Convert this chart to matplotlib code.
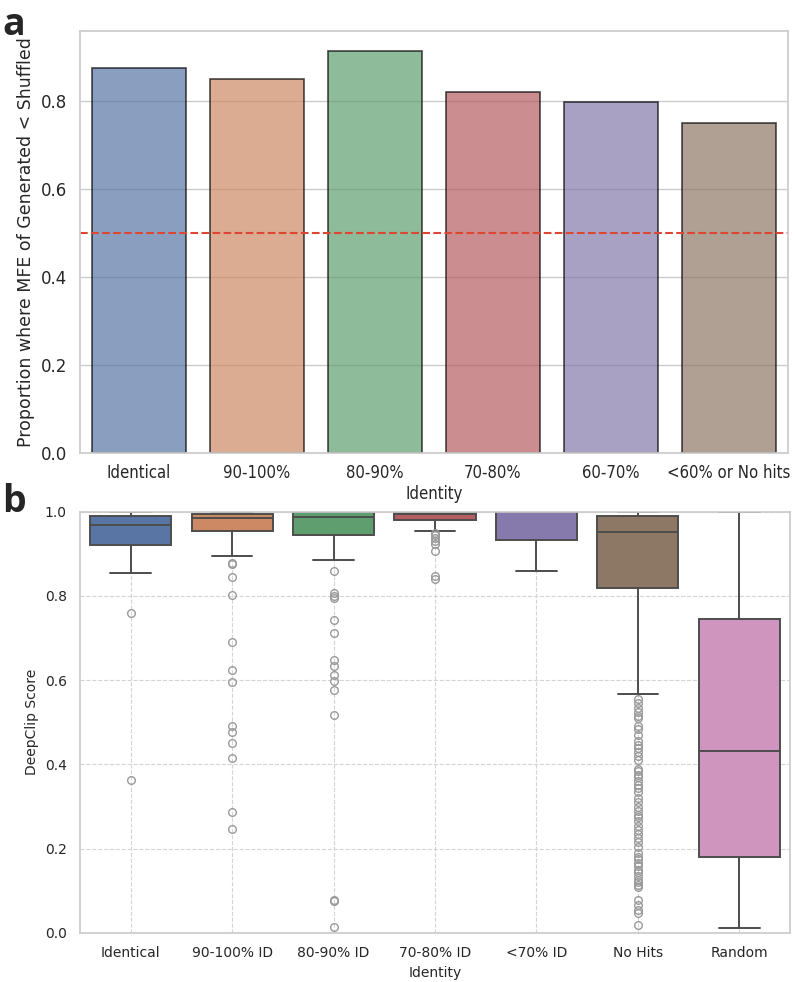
import numpy as np
import matplotlib
matplotlib.use('Agg')
import matplotlib.pyplot as plt
import seaborn as sns

sns.set_theme(style='whitegrid')
plt.rcParams['font.family'] = ['DejaVu Sans']

# panel a: proportion where MFE of generated < shuffled
mfe_groups = ['Identical', '90-100%', '80-90%', '70-80%', '60-70%', '<60% or No hits']
mfe_props = [0.877, 0.852, 0.914, 0.821, 0.798, 0.751]

# panel b: DeepClip score distributions (box statistics)
clip_groups = ['Identical', '90-100% ID', '80-90% ID', '70-80% ID', '<70% ID', 'No Hits', 'Random']
clip_q1 = [0.920, 0.953, 0.945, 0.981, 0.933, 0.818, 0.181]
clip_med = [0.967, 0.985, 0.987, 0.995, 0.999, 0.951, 0.432]
clip_q3 = [0.990, 0.995, 0.998, 0.998, 0.999, 0.990, 0.746]
clip_lo = [0.853, 0.894, 0.885, 0.953, 0.859, 0.566, 0.011]
clip_hi = [0.999, 0.999, 1.000, 0.999, 1.000, 1.000, 1.000]
clip_fliers = [
    [0.759, 0.364],
    [0.877, 0.875, 0.844, 0.803, 0.691, 0.624, 0.595, 0.490, 0.477, 0.451,
     0.416, 0.287, 0.246],
    [0.860, 0.807, 0.800, 0.794, 0.743, 0.712, 0.648, 0.633, 0.613, 0.597,
     0.577, 0.517, 0.078, 0.076, 0.015],
    [0.949, 0.945, 0.937, 0.929, 0.922, 0.906, 0.846, 0.840],
    [],
    [0.555, 0.545, 0.535, 0.525, 0.515, 0.510, 0.490, 0.485, 0.470, 0.455,
     0.445, 0.440, 0.430, 0.420, 0.410, 0.390, 0.385, 0.375, 0.370, 0.360,
     0.350, 0.345, 0.335, 0.320, 0.310, 0.300, 0.290, 0.280, 0.275, 0.265,
     0.255, 0.245, 0.235, 0.225, 0.215, 0.205, 0.190, 0.180, 0.175, 0.165,
     0.160, 0.150, 0.145, 0.135, 0.125, 0.120, 0.115, 0.110, 0.078, 0.067,
     0.055, 0.047, 0.019],
    [],
]

fig = plt.figure(figsize=(7.95, 9.82), dpi=100)
ax1 = fig.add_axes([0.1006, 0.5387, 0.8904, 0.4297])
ax2 = fig.add_axes([0.1006, 0.0499, 0.8931, 0.4292])

# --- a ---
sns.barplot(x=mfe_groups, y=mfe_props, hue=mfe_groups, palette='deep',
            alpha=0.7, edgecolor='black', linewidth=1.2, legend=False, ax=ax1)
ax1.axhline(0.5, color='#dc4633', linestyle='--', linewidth=1.5)
ax1.set_ylim(0, 0.96)
ax1.set_yticks([0.0, 0.2, 0.4, 0.6, 0.8])
ax1.set_xlabel('Identity', fontsize=12, fontstretch='condensed', labelpad=2)
ax1.set_ylabel('Proportion where MFE of Generated < Shuffled', fontsize=12.5)
for lab in ax1.get_xticklabels():
    lab.set_fontstretch('condensed')
    lab.set_fontsize(12)
ax1.tick_params(axis='x', pad=2)
ax1.tick_params(axis='y', labelsize=12)
ax1.grid(axis='x', visible=False)

# --- b ---
box_colors = [sns.desaturate(c, 0.75) for c in sns.color_palette('deep', 7)]
stats = []
for i, name in enumerate(clip_groups):
    stats.append(dict(label=name, q1=clip_q1[i], med=clip_med[i], q3=clip_q3[i],
                      whislo=clip_lo[i], whishi=clip_hi[i],
                      fliers=np.array(clip_fliers[i])))
line_c = '#4d4d4d'
bp = ax2.bxp(stats, positions=range(7), widths=0.8, patch_artist=True,
             boxprops=dict(edgecolor=line_c, linewidth=1.4),
             medianprops=dict(color=line_c, linewidth=1.4),
             whiskerprops=dict(color=line_c, linewidth=1.4),
             capprops=dict(color=line_c, linewidth=1.4),
             flierprops=dict(marker='o', markerfacecolor='none',
                             markeredgecolor='#9a9a9a', markersize=5.5,
                             markeredgewidth=1.0))
for patch, c in zip(bp['boxes'], box_colors):
    patch.set_facecolor(c)
ax2.set_xlim(-0.5, 6.5)
ax2.set_ylim(0, 1.0)
ax2.set_yticks([0.0, 0.2, 0.4, 0.6, 0.8, 1.0])
ax2.set_xticks(range(7))
ax2.set_xticklabels(clip_groups, fontsize=10)
ax2.tick_params(axis='y', labelsize=10)
ax2.set_xlabel('Identity', fontsize=10)
ax2.set_ylabel('DeepClip Score', fontsize=10)
ax2.grid(True, linestyle='--', color='#d4d4d4', linewidth=0.8)
ax2.set_axisbelow(True)

fig.text(0.003, 0.994, 'a', fontsize=27, fontweight='bold', family='Open Sans', va='top')
fig.text(0.003, 0.508, 'b', fontsize=27, fontweight='bold', family='Open Sans', va='top')

fig.savefig('out.png', dpi=100)
